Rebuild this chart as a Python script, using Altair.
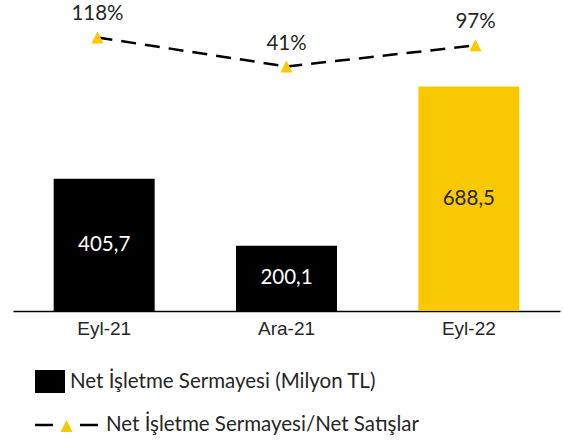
import altair as alt
import pandas as pd

categories = ["Eyl-21", "Ara-21", "Eyl-22"]
working_capital = [405.7, 200.1, 688.5]          # Net İşletme Sermayesi (Milyon TL)
wc_to_sales = [118, 41, 97]                       # Net İşletme Sermayesi/Net Satışlar (%)
bar_colors = ["#000000", "#000000", "#F9C900"]
bar_label_colors = ["#FFFFFF", "#FFFFFF", "#262626"]
legend_labels = ["Net İşletme Sermayesi (Milyon TL)", "Net İşletme Sermayesi/Net Satışlar"]

df = pd.DataFrame({
    "cat": categories,
    "wc": working_capital,
    "wc_half": [v / 2 for v in working_capital],
    "wc_label": [f"{v:.1f}".replace(".", ",") for v in working_capital],
    "ratio": wc_to_sales,
    "ratio_label": [f"{v}%" for v in wc_to_sales],
    "color": bar_colors,
    "lcolor": bar_label_colors,
})

FONT = "Lato"
FS = 20.5
YELLOW = "#F9C900"
TRI = "M-1,1L1,1L0,-1Z"

xbar = alt.X("cat:N", sort=categories, title=None,
             scale=alt.Scale(paddingInner=0.443, paddingOuter=0.2215),
             axis=alt.Axis(labelAngle=0, ticks=False, domainColor="#000000", domainWidth=1.3,
                           labelFont="Liberation Sans", labelFontSize=19, labelColor="#262626",
                           labelPadding=8, grid=False))
ybar = alt.Y("wc:Q", scale=alt.Scale(domain=[0, 938], nice=False, zero=True), axis=None)

bars = alt.Chart(df).mark_bar(size=101).encode(
    x=xbar, y=ybar, color=alt.Color("color:N", scale=None)
)
bar_text = alt.Chart(df).mark_text(font=FONT, fontSize=FS, baseline="middle").encode(
    x=alt.X("cat:N", sort=categories), y=alt.Y("wc_half:Q"), text="wc_label:N",
    color=alt.Color("lcolor:N", scale=None)
)
bar_layer = alt.layer(bars, bar_text)

xline = alt.X("cat:N", sort=categories, axis=None, scale=alt.Scale(type="point", padding=0.447))
yline = alt.Y("ratio:Q", scale=alt.Scale(domain=[-607, 204], nice=False, zero=False), axis=None)

line = alt.Chart(df).mark_line(color="#000000", strokeWidth=2.5, strokeDash=[15, 9]).encode(
    x=xline, y=yline
)
points = alt.Chart(df).mark_point(shape=TRI, size=144, filled=True, color=YELLOW, opacity=1).encode(
    x=xline, y=yline
)
pct = alt.Chart(df).mark_text(font=FONT, fontSize=FS, color="#262626", baseline="middle", dy=-23).encode(
    x=xline, y=yline, text="ratio_label:N"
)
line_layer = alt.layer(line, points, pct)

# manual legend
leg_df = pd.DataFrame({"label": [legend_labels[0]]})
leg_df2 = pd.DataFrame({"label": [legend_labels[1]]})
leg_sq = alt.Chart(leg_df).mark_rect(color="#000000").encode(
    x=alt.value(22), x2=alt.value(52), y=alt.value(365), y2=alt.value(388)
)
leg_t1 = alt.Chart(leg_df).mark_text(font=FONT, fontSize=FS, color="#262626", align="left", baseline="middle").encode(
    x=alt.value(57), y=alt.value(377), text="label:N"
)
leg_d1 = alt.Chart(leg_df2).mark_rule(color="#000000", strokeWidth=2.5).encode(
    x=alt.value(22), x2=alt.value(40), y=alt.value(420)
)
leg_d2 = alt.Chart(leg_df2).mark_rule(color="#000000", strokeWidth=2.5).encode(
    x=alt.value(67), x2=alt.value(85), y=alt.value(420)
)
leg_tri = alt.Chart(leg_df2).mark_point(shape=TRI, size=144, filled=True, color=YELLOW, opacity=1).encode(
    x=alt.value(53.5), y=alt.value(421)
)
leg_t2 = alt.Chart(leg_df2).mark_text(font=FONT, fontSize=FS, color="#262626", align="left", baseline="middle").encode(
    x=alt.value(93), y=alt.value(420), text="label:N"
)
legend_layer = alt.layer(leg_sq, leg_t1, leg_d1, leg_d2, leg_tri, leg_t2)

chart = alt.layer(bar_layer, line_layer, legend_layer).resolve_scale(
    x="independent", y="independent"
).properties(
    width=547, height=306,
    autosize=alt.AutoSizeParams(type="none"),
    padding={"left": 13, "top": 5, "right": 3, "bottom": 134},
    background="#FFFFFF",
).configure_view(stroke=None)

chart.save("out.html", embed_options={"renderer": "svg", "actions": False})
